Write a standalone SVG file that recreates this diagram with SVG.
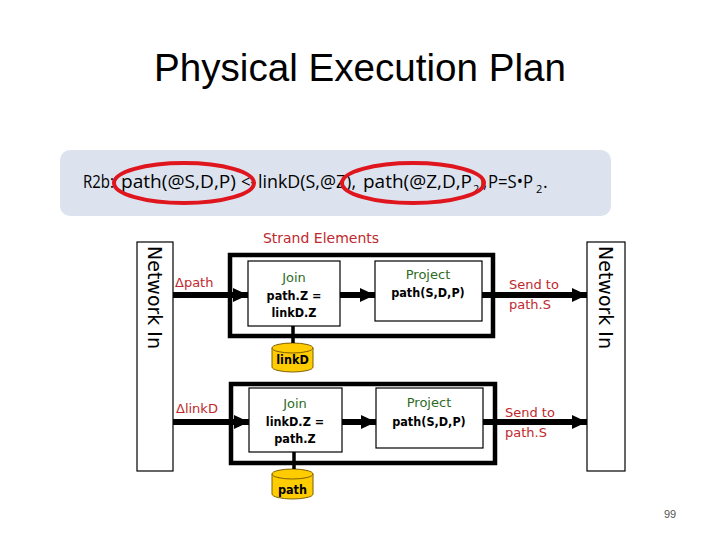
<svg xmlns="http://www.w3.org/2000/svg" width="720" height="540" viewBox="0 0 720 540">
<defs>
<style>
.title{font-family:"Liberation Sans",Arial,sans-serif;font-size:38px;fill:#000}
.rule{font-family:"Open Sans","Liberation Sans",sans-serif;font-size:18px;fill:#000}
.sub{font-family:"Open Sans","Liberation Sans",sans-serif;font-size:11px;fill:#000}
.net{font-family:"DejaVu Sans","Liberation Sans",sans-serif;font-size:19px;fill:#000}
.red{font-family:"DejaVu Sans","Liberation Sans",sans-serif;font-size:13px;fill:#c0282d}
.green{font-family:"DejaVu Sans","Liberation Sans",sans-serif;font-size:13px;fill:#2e6b1f}
.blk{font-family:"DejaVu Sans Condensed","DejaVu Sans",sans-serif;font-size:12.5px;font-weight:bold;fill:#000}
.box{fill:#fff;stroke:#000;stroke-width:1.2}
.strand{fill:none;stroke:#000;stroke-width:4.5}
.arrow{stroke:#000;stroke-width:6;fill:none}
.cyl{fill:#ffcc00;stroke:#806000;stroke-width:1}
.oval{fill:none;stroke:#e0161e;stroke-width:4}
</style>
<marker id="ah" markerUnits="userSpaceOnUse" markerWidth="16" markerHeight="16" viewBox="0 0 16 16" refX="15" refY="8" orient="auto">
<path d="M0,1 L15,8 L0,15 Z" fill="#000"/>
</marker>
</defs>
<rect width="720" height="540" fill="#fff"/>
<text class="title" x="360" y="81" text-anchor="middle" textLength="412" lengthAdjust="spacingAndGlyphs">Physical Execution Plan</text>
<g id="rule">
<rect x="60" y="150" width="551" height="66" rx="10" fill="#dce3ef"/>
<text class="rule" y="188"><tspan x="83" textLength="31" lengthAdjust="spacingAndGlyphs">R2b:</tspan><tspan x="121" textLength="115" lengthAdjust="spacingAndGlyphs">path(@S,D,P)</tspan><tspan x="241" textLength="15" lengthAdjust="spacingAndGlyphs">&lt;-</tspan><tspan x="258" textLength="98" lengthAdjust="spacingAndGlyphs">linkD(S,@Z),</tspan><tspan x="363" textLength="109" lengthAdjust="spacingAndGlyphs">path(@Z,D,P</tspan><tspan x="479" textLength="8" lengthAdjust="spacingAndGlyphs">),</tspan><tspan x="488" textLength="45" lengthAdjust="spacingAndGlyphs">P=S•P</tspan><tspan x="543">.</tspan></text>
<text class="sub" x="473" y="193">2</text>
<text class="sub" x="536" y="193">2</text>
<ellipse class="oval" cx="184" cy="183" rx="70" ry="20"/>
<ellipse class="oval" cx="413" cy="183" rx="71" ry="20"/>
</g>
<text class="red" x="321" y="243" text-anchor="middle" style="font-size:14px">Strand Elements</text>
<g id="netin-left">
<rect class="box" x="137" y="242" width="36" height="229"/>
<text class="net" transform="translate(148,246) rotate(90)">Network In</text>
</g>
<g id="netin-right">
<rect class="box" x="587" y="242" width="38" height="229"/>
<text class="net" transform="translate(599,246) rotate(90)">Network In</text>
</g>
<g id="strand1">
<rect class="strand" x="230" y="255" width="263" height="81"/>
</g>
<g id="strand2">
<rect class="strand" x="231" y="384" width="264" height="79"/>
</g>
<g id="join1">
<rect class="box" x="248" y="261" width="92" height="65"/>
<text class="green" x="294" y="282" text-anchor="middle">Join</text>
<text class="blk" x="294" y="300" text-anchor="middle">path.Z =</text>
<text class="blk" x="294" y="317" text-anchor="middle">linkD.Z</text>
</g>
<g id="project1">
<rect class="box" x="375" y="261" width="107" height="60"/>
<text class="green" x="428" y="279" text-anchor="middle">Project</text>
<text class="blk" x="428" y="297" text-anchor="middle">path(S,D,P)</text>
</g>
<g id="join2">
<rect class="box" x="249" y="388" width="93" height="64"/>
<text class="green" x="295" y="408" text-anchor="middle">Join</text>
<text class="blk" x="295" y="426" text-anchor="middle">linkD.Z =</text>
<text class="blk" x="295" y="443" text-anchor="middle">path.Z</text>
</g>
<g id="project2">
<rect class="box" x="376" y="388" width="107" height="60"/>
<text class="green" x="429" y="407" text-anchor="middle">Project</text>
<text class="blk" x="429" y="426" text-anchor="middle">path(S,D,P)</text>
</g>
<g id="cyl-linkD">
<path class="cyl" d="M272,348 L272,367 A20.5,5 0 0 0 313,367 L313,348 Z"/>
<ellipse class="cyl" cx="292.5" cy="348" rx="20.5" ry="5"/>
<text class="blk" x="292.5" y="364" text-anchor="middle">linkD</text>
</g>
<g id="cyl-path">
<path class="cyl" d="M272,474 L272,494 A20.5,5 0 0 0 313,494 L313,474 Z"/>
<ellipse class="cyl" cx="292.5" cy="474" rx="20.5" ry="5"/>
<text class="blk" x="292.5" y="494" text-anchor="middle">path</text>
</g>
<g id="connectors">
<line class="arrow" x1="173" y1="295" x2="248" y2="295" marker-end="url(#ah)"/>
<line class="arrow" x1="340" y1="295" x2="375" y2="295" marker-end="url(#ah)"/>
<line class="arrow" x1="482" y1="295" x2="587" y2="295" marker-end="url(#ah)"/>
<line class="arrow" x1="173" y1="422" x2="249" y2="422" marker-end="url(#ah)"/>
<line class="arrow" x1="342" y1="422" x2="376" y2="422" marker-end="url(#ah)"/>
<line class="arrow" x1="483" y1="422" x2="587" y2="422" marker-end="url(#ah)"/>
<line x1="293" y1="326" x2="293" y2="343" stroke="#000" stroke-width="3.5"/>
<line x1="294" y1="452" x2="294" y2="469" stroke="#000" stroke-width="3.5"/>
</g>
<text class="red" x="175" y="287">Δpath</text>
<text class="red" x="176" y="413">ΔlinkD</text>
<text class="red" x="509" y="289">Send to</text>
<text class="red" x="509" y="309">path.S</text>
<text class="red" x="505" y="417">Send to</text>
<text class="red" x="505" y="437">path.S</text>
<text x="670" y="518" font-family="Liberation Sans,sans-serif" font-size="11" fill="#555" text-anchor="middle">99</text>
</svg>
